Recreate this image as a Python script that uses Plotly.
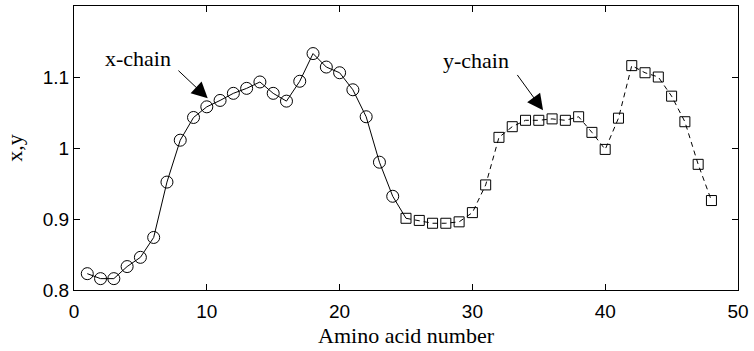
import plotly.graph_objects as go

# x-chain: amino acids 1..24 (circles, solid line)
x_chain_n = list(range(1, 25))
x_chain_v = [0.823, 0.816, 0.816, 0.833, 0.846, 0.874, 0.952, 1.011, 1.043, 1.058,
             1.067, 1.077, 1.084, 1.093, 1.077, 1.066, 1.094, 1.133, 1.114, 1.106,
             1.082, 1.044, 0.980, 0.932]
# y-chain: amino acids 25..48 (squares, dashed line)
y_chain_n = list(range(25, 49))
y_chain_v = [0.901, 0.898, 0.894, 0.894, 0.896, 0.909, 0.948, 1.015, 1.030, 1.039,
             1.039, 1.041, 1.039, 1.044, 1.022, 0.998, 1.042, 1.116, 1.106, 1.100,
             1.073, 1.037, 0.977, 0.926]

x_ticks = [0, 10, 20, 30, 40, 50]
y_ticks = [0.8, 0.9, 1.0, 1.1]
y_tick_labels = ["0.8", "0.9", "1", "1.1"]

serif = "Liberation Serif, Times New Roman, serif"
sans = "Liberation Sans, Arial, Helvetica, sans-serif"

fig = go.Figure()
# solid line from x-chain into first y-chain point
fig.add_trace(go.Scatter(
    x=x_chain_n + [y_chain_n[0]], y=x_chain_v + [y_chain_v[0]],
    mode="lines", line=dict(color="black", width=1), hoverinfo="skip"))
fig.add_trace(go.Scatter(
    x=y_chain_n, y=y_chain_v, mode="lines",
    line=dict(color="black", width=1, dash="5px,4px"), hoverinfo="skip"))
fig.add_trace(go.Scatter(
    x=x_chain_n, y=x_chain_v, mode="markers",
    marker=dict(symbol="circle-open", size=12, color="black", line=dict(width=1, color="black"))))
fig.add_trace(go.Scatter(
    x=y_chain_n, y=y_chain_v, mode="markers",
    marker=dict(symbol="square-open", size=10, color="black", line=dict(width=1, color="black"))))

axis_common = dict(
    showgrid=False, zeroline=False, showline=True, linecolor="black", linewidth=1,
    mirror="ticks", ticks="inside", ticklen=6, tickcolor="black", tickwidth=1,
    tickfont=dict(family=sans, size=19, color="black"),
)

fig.update_layout(
    width=754, height=351,
    margin=dict(l=74, r=13, t=5, b=61),
    paper_bgcolor="white", plot_bgcolor="white",
    showlegend=False,
    font=dict(family=serif),
    xaxis=dict(range=[0, 50], tickvals=x_ticks, ticktext=[str(t) for t in x_ticks],
               ticklabelstandoff=4,
               title=dict(text="Amino acid number", font=dict(family=serif, size=22, color="black"),
                          standoff=6),
               **axis_common),
    yaxis=dict(range=[0.8, 1.2], tickvals=y_ticks, ticktext=y_tick_labels,
               title=dict(text="x,y", font=dict(family=serif, size=22, color="black"),
                          standoff=14),
               **axis_common),
    annotations=[
        dict(x=4.79, y=1.126, xref="x", yref="y", text="x-chain", showarrow=False,
             font=dict(family=serif, size=22, color="black")),
        dict(x=30.3, y=1.1235, xref="x", yref="y", text="y-chain", showarrow=False,
             font=dict(family=serif, size=22, color="black")),
        dict(x=10.07, y=1.070, ax=7.75, ay=1.111, xref="x", yref="y", axref="x", ayref="y",
             text="", showarrow=True, arrowhead=2, arrowsize=3.2, arrowwidth=1,
             arrowcolor="black", standoff=0),
        dict(x=35.32, y=1.053, ax=33.3, ay=1.105, xref="x", yref="y", axref="x", ayref="y",
             text="", showarrow=True, arrowhead=2, arrowsize=3.2, arrowwidth=1,
             arrowcolor="black", standoff=0),
    ],
)

fig.write_html("out.html")
